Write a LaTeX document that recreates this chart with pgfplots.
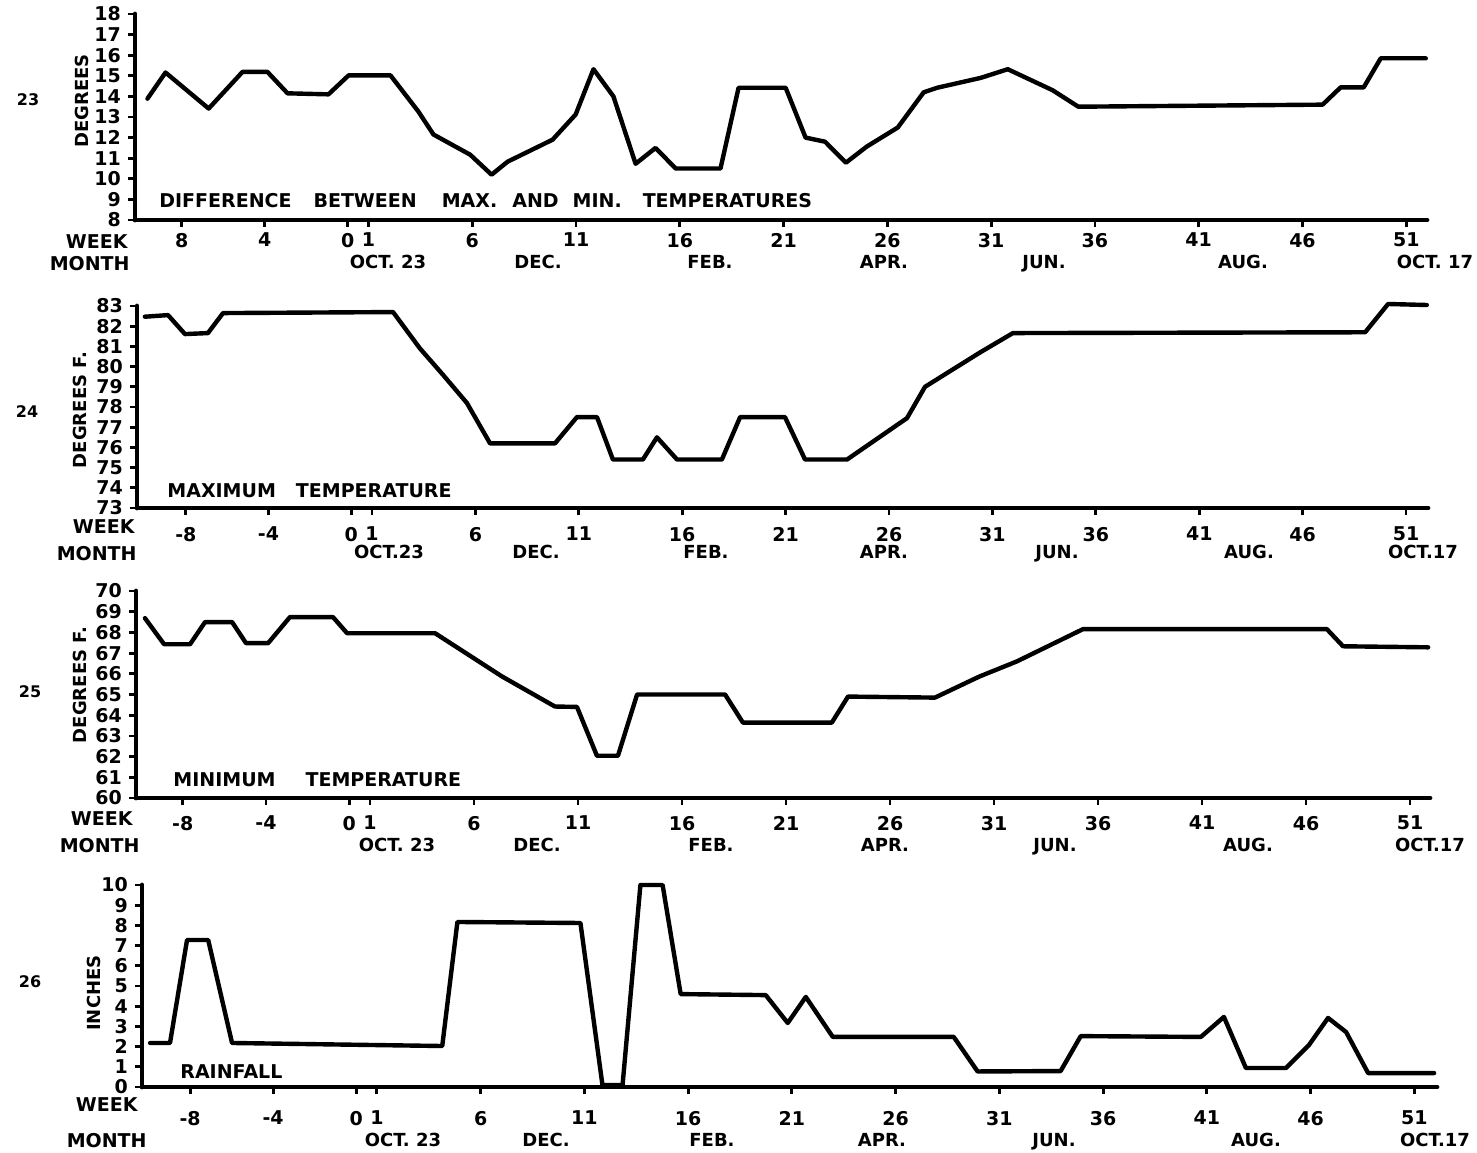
\documentclass[border=0pt]{standalone}
\usepackage{fontspec}
\setmainfont{DejaVu Sans}
\usepackage{pgfplots}
\pgfplotsset{compat=1.18}

\pgfplotsset{
  panel/.style={
    scale only axis,
    axis lines=left,
    axis line style={-, line width=2.4pt, line cap=round},
    tick align=outside,
    major tick length=3.5pt,
    tick style={black, line width=1.4pt},
    xtick={-8,-4,0,1,6,11,16,21,26,31,36,41,46,51},
    xticklabels={-8,-4,0,1,6,11,16,21,26,31,36,41,46,51},
    clip=false,
    /pgf/number format/assume math mode=true,
    tick label style={font=\fontsize{9.5}{10}\selectfont\bfseries},
    ylabel style={font=\fontsize{9}{10}\selectfont\bfseries, anchor=center},
  },
  dataline/.style={black, line width=2.2pt, line join=round, line cap=round, mark=none},
}

\begin{document}
\bfseries
\begin{tikzpicture}
\useasboundingbox (0,0) rectangle (738.5pt,-576pt);

% ---------- Panel 23 ----------
\begin{axis}[panel,
  at={(67.5pt,-110pt)}, anchor=south west,
  width=646pt, height=103pt,
  xmin=-10.25, xmax=52.0, ymin=8, ymax=18,
  ytick={8,...,18},
  xticklabels={8,4,0,1,6,11,16,21,26,31,36,41,46,51},
  xticklabel style={yshift=0.5pt},
  ylabel={DEGREES},
  ylabel style={at={(axis description cs:-0.041,0.578)}},
]
\addplot[dataline] coordinates {
(-9.65,13.89) (-8.78,15.16) (-6.70,13.41) (-5.07,15.19) (-3.87,15.19)
(-2.90,14.15) (-0.93,14.10) (0.04,15.02) (2.06,15.02) (3.40,13.27)
(4.13,12.15) (5.90,11.17) (6.93,10.20) (7.70,10.83) (9.87,11.90)
(10.98,13.12) (11.84,15.32) (12.80,14.00) (13.87,10.73) (14.83,11.50)
(15.80,10.50) (17.96,10.50) (18.83,14.42) (21.10,14.42) (22.06,12.00)
(23.00,11.80) (24.00,10.78) (25.00,11.56) (26.50,12.49) (27.75,14.20)
(28.40,14.42) (30.50,14.90) (31.80,15.32) (33.96,14.30) (35.20,13.50)
(46.97,13.60) (47.84,14.44) (48.95,14.44) (49.77,15.85) (51.94,15.85)
};
\end{axis}

% ---------- Panel 24 ----------
\begin{axis}[panel,
  at={(68.5pt,-254pt)}, anchor=south west,
  width=645.5pt, height=101pt,
  xmin=-10.36, xmax=52.06, ymin=73, ymax=83,
  ytick={73,...,83},
  xticklabel style={yshift=-2.5pt},
  ylabel={DEGREES F.},
  ylabel style={at={(axis description cs:-0.044,0.485)}},
]
\addplot[dataline] coordinates {
(-9.98,82.47) (-8.86,82.55) (-8.04,81.61) (-6.93,81.66) (-6.20,82.65)
(2.02,82.70) (3.32,80.90) (4.43,79.60) (5.59,78.20) (6.71,76.20)
(9.85,76.20) (10.91,77.50) (11.88,77.50) (12.65,75.40) (14.10,75.40)
(14.78,76.50) (15.75,75.40) (17.92,75.40) (18.80,77.50) (20.97,77.50)
(21.94,75.40) (23.97,75.40) (26.87,77.45) (27.74,79.00) (30.40,80.70)
(31.99,81.66) (49.02,81.70) (50.13,83.10) (52.00,83.05)
};
\end{axis}

% ---------- Panel 25 ----------
\begin{axis}[panel,
  at={(68pt,-399pt)}, anchor=south west,
  width=647pt, height=103.5pt,
  xmin=-10.25, xmax=51.96, ymin=60, ymax=70,
  ytick={60,...,70},
  xticklabel style={yshift=-2pt},
  ylabel={DEGREES F.},
  ylabel style={at={(axis description cs:-0.043,0.546)}},
]
\addplot[dataline] coordinates {
(-9.82,68.69) (-8.90,67.43) (-7.65,67.43) (-6.93,68.50) (-5.63,68.50)
(-4.96,67.48) (-3.90,67.48) (-2.85,68.74) (-0.78,68.74) (-0.10,67.96)
(4.13,67.96) (7.35,65.87) (9.89,64.42) (10.95,64.40) (11.91,62.04)
(12.92,62.04) (13.84,65.00) (18.07,65.00) (18.93,63.64) (23.20,63.64)
(23.98,64.90) (28.16,64.85) (30.30,65.87) (32.10,66.60) (35.28,68.16)
(47.00,68.16) (47.78,67.33) (51.87,67.28)
};
\end{axis}

% ---------- Panel 26 ----------
\begin{axis}[panel,
  at={(71pt,-543.5pt)}, anchor=south west,
  width=647.5pt, height=101pt,
  xmin=-10.32, xmax=52.09, ymin=0, ymax=10,
  ytick={0,...,10},
  xticklabel style={yshift=-5pt},
  ylabel={INCHES},
  ylabel style={at={(axis description cs:-0.037,0.465)}},
]
\addplot[dataline] coordinates {
(-9.93,2.18) (-8.97,2.18) (-8.15,7.28) (-7.13,7.28) (-5.98,2.18)
(4.15,2.03) (4.88,8.17) (10.81,8.12) (11.87,0.10) (12.84,0.10)
(13.70,10.00) (14.77,10.00) (15.64,4.60) (19.74,4.55) (20.80,3.17)
(21.67,4.46) (22.97,2.48) (28.80,2.48) (29.95,0.77) (33.95,0.79)
(34.92,2.52) (40.71,2.48) (41.82,3.47) (42.88,0.94) (44.81,0.94)
(45.92,2.08) (46.84,3.42) (47.71,2.72) (48.77,0.69) (51.95,0.69)
};
\end{axis}

% ---------- text in pixel units ----------
\begin{scope}[x=0.5pt, y=-0.5pt]
\tikzset{lab/.style={inner sep=0pt, font=\fontsize{9.5}{10}\selectfont\bfseries},
         mon/.style={inner sep=0pt, anchor=base, font=\fontsize{9}{10}\selectfont\bfseries},
         fig/.style={inner sep=0pt, font=\fontsize{8}{9}\selectfont\bfseries},
         ttl/.style={inner sep=0pt, anchor=west, font=\fontsize{9.5}{10}\selectfont\bfseries}}
% figure numbers
\node[fig] at (28,100) {23};
\node[fig] at (27,412) {24};
\node[fig] at (30,692) {25};
\node[fig] at (30,982) {26};
% panel titles
\node[ttl] at (159,201) {DIFFERENCE\hspace{11pt}BETWEEN\hspace{12.5pt}MAX.\hspace{7.5pt}AND\hspace{7pt}MIN.\hspace{10.5pt}TEMPERATURES};
\node[ttl] at (167,491) {MAXIMUM\hspace{10pt}TEMPERATURE};
\node[ttl] at (173,780) {MINIMUM\hspace{15pt}TEMPERATURE};
\node[ttl] at (180,1072) {RAINFALL};
% WEEK / MONTH
\node[lab, anchor=east] at (128,242) {WEEK};
\node[lab, anchor=east] at (130,264) {MONTH};
\node[lab, anchor=east] at (135,527) {WEEK};
\node[lab, anchor=east] at (137,554) {MONTH};
\node[lab, anchor=east] at (133,819) {WEEK};
\node[lab, anchor=east] at (140,846) {MONTH};
\node[lab, anchor=east] at (138,1105) {WEEK};
\node[lab, anchor=east] at (147,1141) {MONTH};
% month labels (baseline)
\node[mon] at (388,268) {OCT. 23};
\node[mon] at (538,268) {DEC.};
\node[mon] at (710,268) {FEB.};
\node[mon] at (884,268) {APR.};
\node[mon] at (1044,268) {JUN.};
\node[mon] at (1243,268) {AUG.};
\node[mon] at (1435,268) {OCT. 17};
\node[mon] at (389,558) {OCT.23};
\node[mon] at (536,558) {DEC.};
\node[mon] at (706,558) {FEB.};
\node[mon] at (884,558) {APR.};
\node[mon] at (1057,558) {JUN.};
\node[mon] at (1249,558) {AUG.};
\node[mon] at (1423,558) {OCT.17};
\node[mon] at (397,851) {OCT. 23};
\node[mon] at (537,851) {DEC.};
\node[mon] at (711,851) {FEB.};
\node[mon] at (885,851) {APR.};
\node[mon] at (1055,851) {JUN.};
\node[mon] at (1248,851) {AUG.};
\node[mon] at (1430,851) {OCT.17};
\node[mon] at (403,1146) {OCT. 23};
\node[mon] at (546,1146) {DEC.};
\node[mon] at (712,1146) {FEB.};
\node[mon] at (882,1146) {APR.};
\node[mon] at (1054,1146) {JUN.};
\node[mon] at (1256,1146) {AUG.};
\node[mon] at (1435,1146) {OCT.17};
\end{scope}
\end{tikzpicture}
\end{document}
